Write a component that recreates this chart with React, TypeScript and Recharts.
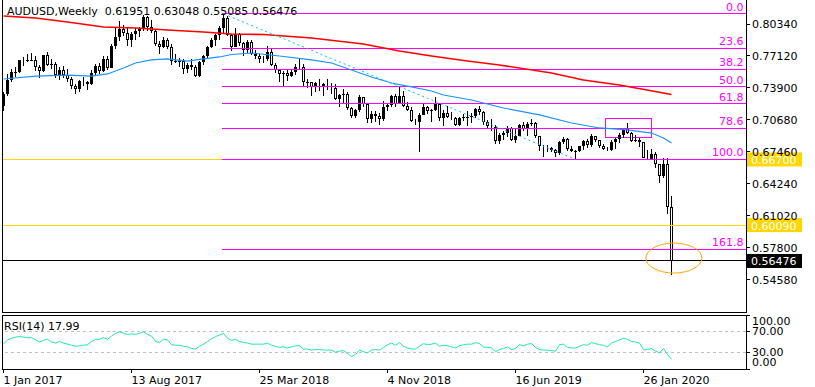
import React from 'react'
import { ComposedChart, Bar, Line, Scatter, XAxis, YAxis, ReferenceLine, ReferenceArea } from 'recharts'

const FONT = "'DejaVu Sans', Verdana, sans-serif"

// weekly AUDUSD bars, 1 Jan 2017 .. 15 Mar 2020 (open = previous close)
const FIRST_OPEN = 0.7210
const CLOSES = [
  0.7330, 0.7475, 0.7546, 0.7547, 0.7667, 0.7660, 0.7670, 0.7676, 0.7605, 0.7557, 0.7719, 0.7624,
  0.7636, 0.7524, 0.7571, 0.7525, 0.7477, 0.7412, 0.7377, 0.7464, 0.7452, 0.7430, 0.7537, 0.7612,
  0.7563, 0.7685, 0.7595, 0.7812, 0.7905, 0.7986, 0.7943, 0.7868, 0.7935, 0.7967, 0.7985, 0.8105,
  0.8002, 0.7966, 0.7834, 0.7799, 0.7868, 0.7800, 0.7657, 0.7658, 0.7661, 0.7577, 0.7621, 0.7604,
  0.7512, 0.7652, 0.7710, 0.7802,
  0.7870, 0.7919, 0.7991, 0.8099, 0.7924, 0.7806, 0.7930, 0.7838,
  0.7769, 0.7856, 0.7736, 0.7707, 0.7681, 0.7680, 0.7751, 0.7624, 0.7567, 0.7526, 0.7538, 0.7510,
  0.7549, 0.7606, 0.7605, 0.7445, 0.7445, 0.7400, 0.7435, 0.7427, 0.7405, 0.7395, 0.7394, 0.7278,
  0.7317, 0.7332, 0.7188, 0.7110, 0.7170, 0.7297, 0.7227, 0.7080, 0.7128, 0.7109, 0.7077, 0.7200,
  0.7222, 0.7312, 0.7230, 0.7310, 0.7207, 0.7172, 0.7060, 0.7052,
  0.7121, 0.7197, 0.7157, 0.7170, 0.7233, 0.7084, 0.7137, 0.7101, 0.7085, 0.7012, 0.7090, 0.7096,
  0.7096, 0.7107, 0.7178, 0.7146, 0.7045, 0.7010, 0.6992, 0.6855, 0.6919, 0.6941, 0.6985, 0.6862,
  0.6910, 0.7021, 0.6978, 0.7023, 0.7042, 0.6908, 0.6805, 0.6793, 0.6785, 0.6767, 0.6730, 0.6843,
  0.6873, 0.6771, 0.6756, 0.6757, 0.6806, 0.6855, 0.6814, 0.6907, 0.6863, 0.6806, 0.6779, 0.6762,
  0.6844, 0.6875, 0.6913, 0.6981,
  0.6940, 0.6858, 0.6868, 0.6842, 0.6688, 0.6677, 0.6720, 0.6624, 0.6505, 0.6620, 0.61951, 0.56476,
]
const HIGHS = [
  0.7350, 0.7535, 0.7580, 0.7606, 0.7675, 0.7705, 0.7730, 0.7740, 0.7710, 0.7625, 0.7725, 0.7750,
  0.7680, 0.7650, 0.7600, 0.7610, 0.7580, 0.7500, 0.7430, 0.7470, 0.7500, 0.7465, 0.7570, 0.7635,
  0.7640, 0.7715, 0.7712, 0.7835, 0.7990, 0.8065, 0.8020, 0.7990, 0.7950, 0.7990, 0.8005, 0.8125,
  0.8110, 0.8070, 0.7975, 0.7860, 0.7900, 0.7895, 0.7830, 0.7730, 0.7690, 0.7680, 0.7640, 0.7680,
  0.7620, 0.7660, 0.7720, 0.7810,
  0.7895, 0.7930, 0.8010, 0.8136, 0.8118, 0.7935, 0.7989, 0.7940,
  0.7855, 0.7870, 0.7875, 0.7770, 0.7735, 0.7715, 0.7812, 0.7780, 0.7645, 0.7580, 0.7560, 0.7580,
  0.7580, 0.7630, 0.7677, 0.7630, 0.7485, 0.7450, 0.7445, 0.7485, 0.7440, 0.7485, 0.7440, 0.7425,
  0.7330, 0.7380, 0.7345, 0.7200, 0.7180, 0.7315, 0.7300, 0.7235, 0.7160, 0.7160, 0.7140, 0.7258,
  0.7240, 0.7320, 0.7330, 0.7395, 0.7360, 0.7250, 0.7200, 0.7080,
  0.7135, 0.7236, 0.7205, 0.7180, 0.7296, 0.7240, 0.7165, 0.7205, 0.7150, 0.7100, 0.7100, 0.7130,
  0.7160, 0.7140, 0.7190, 0.7206, 0.7160, 0.7065, 0.7075, 0.7020, 0.6940, 0.6960, 0.7010, 0.6995,
  0.6980, 0.7030, 0.7048, 0.7045, 0.7082, 0.7045, 0.6910, 0.6820, 0.6820, 0.6800, 0.6780, 0.6860,
  0.6895, 0.6890, 0.6810, 0.6770, 0.6810, 0.6870, 0.6880, 0.6930, 0.6910, 0.6865, 0.6830, 0.6800,
  0.6865, 0.6890, 0.6940, 0.6990,
  0.7032, 0.6945, 0.6915, 0.6890, 0.6850, 0.6770, 0.6775, 0.6740, 0.6625, 0.6685, 0.6685, 0.63048,
]
const LOWS = [
  0.7160, 0.7310, 0.7450, 0.7500, 0.7540, 0.7615, 0.7650, 0.7660, 0.7565, 0.7490, 0.7550, 0.7610,
  0.7580, 0.7490, 0.7470, 0.7490, 0.7450, 0.7380, 0.7330, 0.7350, 0.7410, 0.7370, 0.7420, 0.7510,
  0.7530, 0.7555, 0.7570, 0.7590, 0.7780, 0.7860, 0.7910, 0.7810, 0.7805, 0.7870, 0.7900, 0.7960,
  0.7960, 0.7940, 0.7810, 0.7735, 0.7790, 0.7780, 0.7625, 0.7640, 0.7600, 0.7530, 0.7540, 0.7570,
  0.7501, 0.7505, 0.7620, 0.7695,
  0.7790, 0.7810, 0.7870, 0.7945, 0.7910, 0.7760, 0.7800, 0.7815,
  0.7710, 0.7740, 0.7720, 0.7680, 0.7645, 0.7640, 0.7665, 0.7610, 0.7540, 0.7450, 0.7412, 0.7460,
  0.7505, 0.7520, 0.7570, 0.7400, 0.7390, 0.7310, 0.7345, 0.7360, 0.7310, 0.7370, 0.7330, 0.7270,
  0.7202, 0.7240, 0.7170, 0.7085, 0.7090, 0.7150, 0.7200, 0.7040, 0.7040, 0.7050, 0.7020, 0.7055,
  0.7155, 0.7200, 0.7200, 0.7225, 0.7200, 0.7160, 0.7050, 0.7015,
  0.6740, 0.7120, 0.7125, 0.7045, 0.7160, 0.7055, 0.7005, 0.7090, 0.7070, 0.7005, 0.7003, 0.7055,
  0.7005, 0.7035, 0.7090, 0.7115, 0.7020, 0.6985, 0.6960, 0.6830, 0.6830, 0.6865, 0.6900, 0.6855,
  0.6835, 0.6905, 0.6960, 0.6910, 0.7005, 0.6890, 0.6755, 0.6690, 0.6740, 0.6740, 0.6690, 0.6710,
  0.6825, 0.6760, 0.6740, 0.6670, 0.6740, 0.6770, 0.6790, 0.6800, 0.6845, 0.6790, 0.6770, 0.6755,
  0.6755, 0.6780, 0.6840, 0.6890,
  0.6930, 0.6850, 0.6850, 0.6800, 0.6682, 0.6660, 0.6675, 0.6585, 0.6434, 0.6480, 0.6125, 0.55085,
]

const RSI = [
  46, 54, 57, 59, 60, 59, 58, 58, 54, 50, 53, 55,
  50, 48, 51, 48, 46, 44, 42, 43, 44, 45, 51, 55,
  55, 58, 55, 61, 66, 69, 66, 64, 65, 64, 66, 69,
  64, 61, 51, 49, 55, 54, 45, 44, 44, 42, 41, 38,
  37, 42, 46, 51, 56, 60, 63, 66, 57, 53, 55, 51,
  49, 48, 46, 46, 46, 46, 48, 44, 42, 40, 41, 39,
  41, 43, 43, 37, 37, 35, 36, 36, 35, 35, 35, 31,
  33, 34, 29, 23, 27, 35, 32, 30, 35, 36, 35, 40,
  45, 48, 44, 49, 42, 39, 37, 37, 42, 47, 45, 46,
  48, 42, 44, 43, 41, 39, 43, 45, 46, 46, 49, 47,
  41, 40, 39, 32, 36, 38, 41, 36, 38, 45, 43, 46,
  47, 40, 36, 35, 35, 34, 33, 45, 46, 40, 39, 39,
  42, 45, 44, 49, 47, 45, 44, 41, 48, 51, 54, 57,
  55, 51, 50, 48, 36, 36, 38, 33, 30, 38, 27, 17.99,
]

// moving averages at these bars
const BLUE_MA_BARS = [0, 8, 16, 22, 26, 30, 33, 37, 41, 46, 50, 54, 57, 62, 69, 77, 82, 87, 92, 97, 102, 107, 110, 117, 125, 134, 142, 149, 156, 162, 165, 167]
const BLUE_MA = [0.7480, 0.7510, 0.7520, 0.7510, 0.7531, 0.7591, 0.7641, 0.7672, 0.7682, 0.7661, 0.7682, 0.7702, 0.7727, 0.7742, 0.7712, 0.7672, 0.7641, 0.7571, 0.7500, 0.7440, 0.7400, 0.7359, 0.7319, 0.7269, 0.7188, 0.7118, 0.7037, 0.6987, 0.6967, 0.6936, 0.6886, 0.6836]
const RED_MA_BARS = [0, 8, 16, 25, 33, 41, 50, 57, 65, 77, 90, 99, 107, 116, 124, 137, 145, 154, 167]
const RED_MA = [0.8115, 0.8094, 0.8054, 0.8004, 0.7994, 0.7974, 0.7953, 0.7933, 0.7928, 0.7893, 0.7833, 0.7762, 0.7712, 0.7661, 0.7621, 0.7541, 0.7470, 0.7420, 0.7324]

// trend line from the Jan 2018 high to the Oct 2019 low
const TREND_BARS = [55, 143]
const TREND = [0.8136, 0.6670]

const FIB_HIGH = 0.8136
const FIB_LOW = 0.6670
const FIB_LEVELS = [0, 23.6, 38.2, 50, 61.8, 78.6, 100, 161.8]
const FIB_START = 54.6

const PRICE_TICKS = [0.8034, 0.7712, 0.739, 0.7068, 0.6746, 0.6424, 0.6102, 0.578, 0.5458]
const RSI_TICKS = [0, 30, 70, 100]
const DATE_TICKS = [0, 32, 64, 96, 128, 160]
const DATE_LABELS = ['1 Jan 2017', '13 Aug 2017', '25 Mar 2018', '4 Nov 2018', '16 Jun 2019', '26 Jan 2020']

const X_MIN = -0.375
const X_MAX = 185.625
const Y_MIN = 0.51337
const Y_MAX = 0.82757

const rows = CLOSES.map((c, i) => ({
  i,
  open: i === 0 ? FIRST_OPEN : CLOSES[i - 1],
  close: c,
  range: [LOWS[i], HIGHS[i]],
  rsi: RSI[i],
  blue: null as number | null,
  red: null as number | null,
  trend: null as number | null,
}))
BLUE_MA_BARS.forEach((b, k) => { rows[b].blue = BLUE_MA[k] })
RED_MA_BARS.forEach((b, k) => { rows[b].red = RED_MA[k] })
TREND_BARS.forEach((b, k) => { rows[b].trend = TREND[k] })

const ellipseData = [{ i: 167.6, ell: 0.5677 }]

function Candle(props: any) {
  const { x, y, width, height, payload } = props
  if (payload == null || height == null) return null
  const [lo, hi] = payload.range
  const k = hi - lo !== 0 ? height / (hi - lo) : 0
  const yo = y + (hi - payload.open) * k
  const yc = y + (hi - payload.close) * k
  const cx = Math.round(x + width / 2 - 0.5) + 0.5
  const top = Math.round(Math.min(yo, yc))
  const bot = Math.round(Math.max(yo, yc))
  const bull = payload.close >= payload.open
  return (
    <g>
      <line x1={cx} x2={cx} y1={Math.round(y)} y2={Math.round(y + height)} stroke="#000" strokeWidth={1} />
      {bull ? (
        <rect x={cx - 1.5} y={top} width={3} height={Math.max(bot - top, 1)} fill="#000" />
      ) : (
        <rect x={cx - 1} y={top + 0.5} width={2} height={Math.max(bot - top - 1, 0)} fill="#fff" stroke="#000" strokeWidth={1} />
      )}
    </g>
  )
}

const fibLabel = (text: string) => (p: any) => {
  const vb = p.viewBox || {}
  return (
    <text x={vb.x + vb.width - 2.5} y={vb.y - 3} textAnchor="end" fill="#FF00FF" fontSize={11} fontFamily={FONT}>
      {text}
    </text>
  )
}

const boxLabel = (text: string, bg: string) => (p: any) => {
  const vb = p.viewBox || {}
  const bx = vb.x + vb.width + 1
  return (
    <g>
      <rect x={bx} y={vb.y - 7} width={55} height={14} fill={bg} />
      <text x={bx + 4} y={vb.y + 4.5} fill="#fff" fontSize={11} fontFamily={FONT}>{text}</text>
    </g>
  )
}

function EllipseMark(props: any) {
  const { cx, cy } = props
  return <ellipse cx={cx} cy={cy} rx={28} ry={15} fill="none" stroke="#FFA500" strokeWidth={1} />
}

function DateTick(props: any) {
  const { x, y, payload } = props
  const idx = DATE_TICKS.indexOf(payload.value)
  return (
    <text x={x} y={y + 1} dy="0.71em" textAnchor="start" fill="#000" fontSize={11} fontFamily={FONT}>
      {DATE_LABELS[idx]}
    </text>
  )
}

function RsiTick(props: any) {
  const { x, y, payload } = props
  const v = payload.value
  const off = v === 100 ? 10 : v === 0 ? -3 : 3.5
  return (
    <text x={x} y={y + off} fill="#000" fontSize={11} fontFamily={FONT}>
      {v.toFixed(2)}
    </text>
  )
}

export default function App() {
  return (
    <div style={{ position: 'absolute', left: 0, top: 0, width: 815, height: 387, background: '#fff', overflow: 'hidden' }}>
      <div style={{ position: 'absolute', left: 0, top: 0 }}>
        <ComposedChart width={815} height={312} data={rows} margin={{ top: 0, right: 0, left: 2, bottom: 0 }}>
          <XAxis dataKey="i" type="number" domain={[X_MIN, X_MAX]} hide allowDataOverflow />
          <YAxis
            orientation="right"
            domain={[Y_MIN, Y_MAX]}
            ticks={PRICE_TICKS}
            interval={0}
            width={69}
            allowDataOverflow
            axisLine={false}
            tickSize={4}
            tickLine={{ stroke: '#000', shapeRendering: 'crispEdges' }}
            tick={{ fill: '#000', fontSize: 11, fontFamily: FONT }}
            tickFormatter={(v: number) => v.toFixed(5)}
          />
          <ReferenceLine y={0.6009} stroke="#FFD700" strokeWidth={1} shapeRendering="crispEdges" label={boxLabel('0.60090', '#FFD700')} />
          <ReferenceLine y={0.667} stroke="#FFD700" strokeWidth={1} shapeRendering="crispEdges" label={boxLabel('0.66700', '#FFD700')} />
          <ReferenceLine y={0.56476} stroke="#000" strokeWidth={1} shapeRendering="crispEdges" label={boxLabel('0.56476', '#000')} />
          {FIB_LEVELS.map((lv) => {
            const p = FIB_HIGH - (lv / 100) * (FIB_HIGH - FIB_LOW)
            return (
              <ReferenceLine
                key={lv}
                segment={[{ x: FIB_START, y: p }, { x: X_MAX, y: p }]}
                stroke="#FF00FF"
                strokeWidth={1}
                shapeRendering="crispEdges"
                label={fibLabel(lv.toFixed(1))}
              />
            )
          })}
          <ReferenceArea x1={150.6} x2={161.9} y1={0.6896} y2={0.7087} fill="none" stroke="#FF00FF" strokeWidth={1} shapeRendering="crispEdges" />
          <Line dataKey="red" stroke="#FF0000" strokeWidth={1.6} dot={false} connectNulls isAnimationActive={false} />
          <Line dataKey="blue" stroke="#1E90FF" strokeWidth={1.2} dot={false} connectNulls isAnimationActive={false} />
          <Line dataKey="trend" stroke="#00BFFF" strokeWidth={1} strokeDasharray="2 3" dot={false} connectNulls isAnimationActive={false} />
          <Bar dataKey="range" barSize={3} shape={Candle} isAnimationActive={false} />
          <Scatter data={ellipseData} dataKey="ell" shape={EllipseMark} isAnimationActive={false} />
        </ComposedChart>
      </div>
      <div style={{ position: 'absolute', left: 0, top: 315 }}>
        <ComposedChart width={815} height={72} data={rows} margin={{ top: 0, right: 0, left: 2, bottom: 0 }}>
          <XAxis
            dataKey="i"
            type="number"
            domain={[X_MIN, X_MAX]}
            ticks={DATE_TICKS}
            interval={0}
            height={18}
            allowDataOverflow
            axisLine={false}
            tickSize={4}
            tickLine={{ stroke: '#000', shapeRendering: 'crispEdges' }}
            tick={DateTick}
          />
          <YAxis
            orientation="right"
            domain={[0, 100]}
            ticks={RSI_TICKS}
            interval={0}
            width={69}
            axisLine={false}
            tickSize={4}
            tickLine={{ stroke: '#000', shapeRendering: 'crispEdges' }}
            tick={RsiTick}
          />
          <ReferenceLine y={70} stroke="#C0C0C0" strokeDasharray="3 3" shapeRendering="crispEdges" />
          <ReferenceLine y={30} stroke="#C0C0C0" strokeDasharray="3 3" shapeRendering="crispEdges" />
          <Line dataKey="rsi" stroke="#20E8A8" strokeWidth={1} dot={false} isAnimationActive={false} />
        </ComposedChart>
      </div>
      <div style={{ position: 'absolute', left: 2, top: -1, width: 745, height: 314, border: '1px solid #000', boxSizing: 'border-box' }} />
      <div style={{ position: 'absolute', left: 2, top: 315, width: 745, height: 55, border: '1px solid #000', boxSizing: 'border-box' }} />
      <svg width={815} height={387} style={{ position: 'absolute', left: 0, top: 0, pointerEvents: 'none' }}>
        <text x={7} y={15} fontSize={11} fontFamily={FONT} fill="#000" xmlSpace="preserve" style={{ whiteSpace: 'pre' }}>
          {'AUDUSD,Weekly  0.61951 0.63048 0.55085 0.56476'}
        </text>
        <text x={4} y={330} fontSize={11} fontFamily={FONT} fill="#000" xmlSpace="preserve" style={{ whiteSpace: 'pre' }}>
          {'RSI(14) 17.99'}
        </text>
      </svg>
    </div>
  )
}
